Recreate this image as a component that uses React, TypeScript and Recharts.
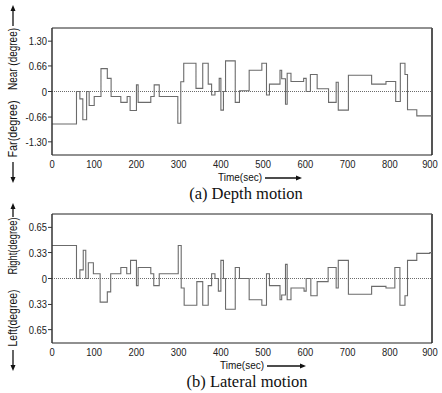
import React from 'react'
import { LineChart, Line, XAxis, YAxis, ReferenceLine } from 'recharts'

// depth motion (a): change times (sec) and level (degree)
const depthTime = [0, 58, 66, 73, 82, 88, 100, 116, 131, 140, 163, 178, 185, 200, 204, 234, 242, 254, 298, 305, 312, 341, 357, 370, 378, 386, 396, 400, 406, 411, 434, 444, 467, 497, 508, 515, 540, 544, 553, 557, 566, 596, 602, 612, 628, 655, 673, 678, 702, 757, 791, 814, 825, 836, 842, 864, 900]
const depthValue = [-0.84, 0, -0.19, -0.73, 0, -0.36, -0.13, 0.59, 0.34, -0.13, -0.28, -0.13, -0.49, 0.17, -0.28, -0.13, 0.17, -0.13, -0.82, 0.25, 0.73, 0.08, 0.73, 0.19, -0.09, 0, 0.34, -0.48, 0, 0.79, -0.28, 0.02, 0.55, 0.73, -0.09, 0.19, 0.55, 0.33, -0.33, 0.47, 0.26, 0.34, 0, 0.44, 0.07, -0.28, 0.24, -0.48, 0.42, 0.19, 0.26, -0.26, 0.73, 0.44, -0.47, -0.63, -0.63]

// lateral motion (b)
const lateralTime = [0, 58, 66, 74, 80, 86, 98, 114, 131, 139, 163, 177, 186, 200, 204, 234, 241, 254, 299, 306, 313, 343, 357, 370, 378, 386, 394, 400, 406, 411, 434, 444, 467, 497, 508, 515, 540, 544, 553, 557, 566, 597, 602, 613, 628, 654, 673, 678, 702, 757, 791, 812, 824, 836, 842, 864, 895, 900]
const lateralValue = [0.42, 0, 0.11, 0.36, 0, 0.2, 0.06, -0.3, -0.17, 0.06, 0.14, 0.06, 0.23, -0.09, 0.14, 0.06, -0.09, 0.06, 0.42, -0.12, -0.34, -0.04, -0.34, -0.09, 0.06, 0, -0.16, 0.23, 0, -0.39, 0.14, 0, -0.27, -0.34, 0.06, -0.09, -0.27, -0.21, 0.18, -0.27, -0.12, -0.16, 0, -0.22, -0.04, 0.14, -0.12, 0.23, -0.2, -0.1, -0.12, 0.14, -0.34, -0.22, 0.23, 0.32, 0.33, 0.33]

const timeTicks = [0, 100, 200, 300, 400, 500, 600, 700, 800, 900]
const depthTicks = [-1.3, -0.66, 0, 0.66, 1.3]
const lateralTicks = [-0.65, -0.33, 0, 0.33, 0.65]

const sans = "'Liberation Sans', Arial, sans-serif"
const serif = "'Liberation Serif', 'Times New Roman', serif"

const toRows = (ts: number[], vs: number[]) => ts.map((t, i) => ({ t, v: vs[i] }))

// narrow sans tick label (the original uses a condensed face)
function NarrowTick(props: any) {
  const { x, y, payload, textAnchor, fmt, dy } = props
  const s = fmt(payload.value)
  return (
    <text x={x} y={y} dy={dy} textAnchor={textAnchor} fontSize={11.5} fontFamily={sans} fill="#222"
      transform={`translate(${x} 0) scale(0.82 1) translate(${-x} 0)`}>{s}</text>
  )
}

function Panel({ rows, ticks, domain, fmt, height, bottom }: {
  rows: { t: number; v: number }[]
  ticks: number[]
  domain: [number, number]
  fmt: (v: number) => string
  height: number
  bottom: number
}) {
  return (
    <LineChart width={442} height={height} data={rows} margin={{ top: 28, right: 10, bottom, left: 12 }}>
      <XAxis
        dataKey="t" type="number" domain={[0, 900]} ticks={timeTicks}
        tick={<NarrowTick fmt={(v: number) => String(v)} dy="0.71em" />} tickSize={0} tickMargin={5} height={20}
        axisLine={{ stroke: '#222', strokeWidth: 1.2 }} tickLine={false}
      />
      <YAxis
        type="number" domain={domain} ticks={ticks}
        tick={<NarrowTick fmt={fmt} dy="0.35em" />} tickSize={4} tickMargin={1} width={40}
        axisLine={{ stroke: '#333', strokeWidth: 1.5 }} tickLine={{ stroke: '#333' }}
      />
      <ReferenceLine y={0} stroke="#444" strokeDasharray="1 1" strokeWidth={0.8} />
      <ReferenceLine y={domain[1]} stroke="#222" strokeWidth={1} />
      <ReferenceLine x={900} stroke="#555" strokeWidth={2} />
      <Line
        dataKey="v" type="stepAfter" stroke="#6b6b6b" strokeWidth={1.1}
        dot={false} isAnimationActive={false}
      />
    </LineChart>
  )
}

function Arrow({ x, y1, y2 }: { x: number; y1: number; y2: number }) {
  const dir = y2 < y1 ? -1 : 1
  return (
    <g>
      <line x1={x} y1={y1} x2={x} y2={y2 - dir * 4} stroke="#111" strokeWidth={1.3} />
      <polygon points={`${x - 2.5},${y2 - dir * 6} ${x + 2.5},${y2 - dir * 6} ${x},${y2}`} fill="#111" />
    </g>
  )
}

function HArrow({ x1, x2, y }: { x1: number; x2: number; y: number }) {
  return (
    <g>
      <line x1={x1} y1={y} x2={x2 - 4} y2={y} stroke="#111" strokeWidth={1.3} />
      <polygon points={`${x2 - 6},${y - 2.5} ${x2 - 6},${y + 2.5} ${x2},${y}`} fill="#111" />
    </g>
  )
}

function VText({ x, y, len, children }: { x: number; y: number; len: number; children: string }) {
  return (
    <text x={x} y={y} transform={`rotate(-90 ${x} ${y})`} textAnchor="middle" dominantBaseline="central"
      fontSize={12} fontFamily={sans} fill="#111" textLength={len} lengthAdjust="spacingAndGlyphs">{children}</text>
  )
}

export default function App() {
  return (
    <div style={{ position: 'absolute', left: 0, top: 0, width: 442, height: 393, background: '#fff' }}>
      <div style={{ position: 'absolute', left: 0, top: 0 }}>
        <Panel rows={toRows(depthTime, depthValue)} ticks={depthTicks} domain={[-1.64, 1.64]}
          fmt={(v) => (v === 0 ? '0' : v.toFixed(2))} height={200} bottom={25} />
      </div>
      <div style={{ position: 'absolute', left: 0, top: 186 }}>
        <Panel rows={toRows(lateralTime, lateralValue)} ticks={lateralTicks} domain={[-0.82, 0.82]}
          fmt={(v) => (v === 0 ? '0' : Math.abs(v).toFixed(2))} height={207} bottom={30} />
      </div>
      <svg width={442} height={393} style={{ position: 'absolute', left: 0, top: 0, pointerEvents: 'none' }}>
        <Arrow x={13} y1={26} y2={5} />
        <VText x={13} y={59} len={62}>Near (degree)</VText>
        <VText x={13} y={129} len={57}>Far(degree)</VText>
        <Arrow x={13} y1={162} y2={183} />
        <text x={218} y={177} dominantBaseline="central" fontSize={11.5} fontFamily={sans} fill="#111"
          textLength={44} lengthAdjust="spacingAndGlyphs">Time(sec)</text>
        <HArrow x1={265} x2={302} y={178} />
        <text x={246} y={193} textAnchor="middle" dominantBaseline="central" fontSize={16.5} fontFamily={serif} fill="#111">(a) Depth motion</text>

        <Arrow x={13} y1={217} y2={203} />
        <VText x={13} y={246} len={57}>Right(degree)</VText>
        <VText x={13} y={318} len={57}>Left(degree)</VText>
        <Arrow x={13} y1={350} y2={371} />
        <text x={220} y={365} dominantBaseline="central" fontSize={11.5} fontFamily={sans} fill="#111"
          textLength={44} lengthAdjust="spacingAndGlyphs">Time(sec)</text>
        <HArrow x1={267} x2={306} y={366} />
        <text x={247} y={381} textAnchor="middle" dominantBaseline="central" fontSize={16.5} fontFamily={serif} fill="#111">(b) Lateral motion</text>
      </svg>
    </div>
  )
}
